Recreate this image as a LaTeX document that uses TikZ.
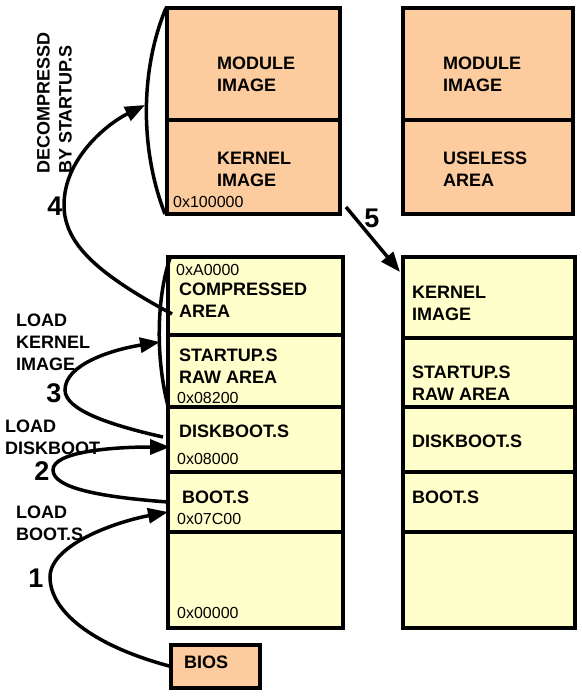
\documentclass[tikz,border=0pt]{standalone}
\usepackage{fontspec}
\setmainfont{Liberation Sans}
\usepackage{tikz}
\usetikzlibrary{arrows.meta}
\definecolor{peach}{RGB}{252,204,158}
\definecolor{paleyellow}{RGB}{255,255,204}

\begin{document}
\begin{tikzpicture}[x=1pt,y=-1pt,
    cell/.style={draw,line width=4pt,anchor=north west,inner sep=0pt,outer sep=0pt},
    orangecell/.style={cell,fill=peach},
    yellowcell/.style={cell,fill=paleyellow},
    txt/.style={anchor=west,align=left,inner sep=0pt,font=\fontsize{18}{22}\selectfont\bfseries},
    hex/.style={anchor=west,inner sep=0pt,font=\fontsize{16}{19}\selectfont},
    num/.style={inner sep=0pt,font=\fontsize{27}{30}\selectfont\bfseries},
    arrow/.style={line width=3.5pt,-{Triangle[length=20pt,width=15pt]}},
    brace/.style={line width=3.5pt}]
    \useasboundingbox (0,0) rectangle (581,696);

    \node [orangecell,minimum width=173pt,minimum height=112pt] (ltmod) at (167,8) {};
    \node [orangecell,minimum width=173pt,minimum height=94pt] (ltker) at (167,120) {};
    \node [orangecell,minimum width=170pt,minimum height=112pt] (rtmod) at (403,8) {};
    \node [orangecell,minimum width=170pt,minimum height=94pt] (rtuse) at (403,120) {};

    \node [yellowcell,minimum width=175pt,minimum height=78pt] (lcomp) at (168,257) {};
    \node [yellowcell,minimum width=175pt,minimum height=72pt] (lstart) at (168,335) {};
    \node [yellowcell,minimum width=175pt,minimum height=65pt] (ldisk) at (168,407) {};
    \node [yellowcell,minimum width=175pt,minimum height=60pt] (lboot) at (168,472) {};
    \node [yellowcell,minimum width=175pt,minimum height=96pt] (llow) at (168,532) {};

    \node [yellowcell,minimum width=172pt,minimum height=81pt] (rker) at (403,257) {};
    \node [yellowcell,minimum width=172pt,minimum height=69pt] (rstart) at (403,338) {};
    \node [yellowcell,minimum width=172pt,minimum height=65pt] (rdisk) at (403,407) {};
    \node [yellowcell,minimum width=172pt,minimum height=60pt] (rboot) at (403,472) {};
    \node [yellowcell,minimum width=172pt,minimum height=96pt] (rlow) at (403,532) {};

    \node [orangecell,minimum width=89pt,minimum height=43pt] (bios) at (171,645) {};

    \node [txt] (ltmodtext) at (217,74.5) {MODULE\\IMAGE};
    \node [txt] (ltkertext) at (217,169) {KERNEL\\IMAGE};
    \node [hex] (ltkerhex) at (173,202) {0x100000};
    \node [txt] (rtmodtext) at (443,74.5) {MODULE\\IMAGE};
    \node [txt] (rtusetext) at (443,169) {USELESS\\AREA};

    \node [hex] (lcomphex) at (176,270) {0xA0000};
    \node [txt] (lcomptext) at (179,300.5) {COMPRESSED\\AREA};
    \node [txt] (lstarttext) at (179,366) {STARTUP.S\\RAW AREA};
    \node [hex] (lstarthex) at (177,398) {0x08200};
    \node [txt] (ldisktext) at (179,431) {DISKBOOT.S};
    \node [hex] (ldiskhex) at (177,459) {0x08000};
    \node [txt] (lboottext) at (182,497) {BOOT.S};
    \node [hex] (lboothex) at (177,519) {0x07C00};
    \node [hex] (llowhex) at (177,613) {0x00000};
    \node [txt] (biostext) at (184,662) {BIOS};

    \node [txt] (rkertext) at (412,303.5) {KERNEL\\IMAGE};
    \node [txt] (rstarttext) at (412,383.5) {STARTUP.S\\RAW AREA};
    \node [txt] (rdisktext) at (412,441) {DISKBOOT.S};
    \node [txt] (rboottext) at (412,497) {BOOT.S};

    \node [txt,rotate=90] (decomp) at (54.5,174) {DECOMPRESSD\\BY STARTUP.S};
    \node [txt] (loadkernel) at (16,342) {LOAD\\KERNEL\\IMAGE};
    \node [txt] (loaddisk) at (5,437) {LOAD\\DISKBOOT};
    \node [txt] (loadboot) at (16,523) {LOAD\\BOOT.S};

    \node [num] (one) at (36,578) {1};
    \node [num] (two) at (42,471) {2};
    \node [num] (three) at (54,393) {3};
    \node [num] (four) at (55,206) {4};
    \node [num] (five) at (372,218) {5};

    \draw [brace] (166,8) .. controls (140,70) and (140,150) .. (165,214);
    \draw [brace] (170,258) .. controls (156,300) and (156,360) .. (168,406);

    \coordinate (t1) at (168,512);
    \coordinate (t2) at (170,447);
    \coordinate (s3) at (163,437);
    \coordinate (t3) at (160,342);
    \coordinate (s4) at (172,314);
    \coordinate (t4) at (145,105);
    \coordinate (s5) at (346,207);
    \coordinate (t5) at (400,272);

    \draw [arrow] (bios.west) .. controls (90,645) and (50,610) .. (50,577) .. controls (50,545) and (115,522) .. (t1);
    \draw [arrow] (lboot.west) .. controls (100,497) and (53,488) .. (53,470) .. controls (53,452) and (110,447) .. (t2);
    \draw [arrow] (s3) .. controls (110,425) and (65,410) .. (65,390) .. controls (65,365) and (110,350) .. (t3);
    \draw [arrow] (s4) .. controls (100,275) and (64,245) .. (64,205) .. controls (64,160) and (105,125) .. (t4);
    \draw [arrow] (s5) -- (t5);
\end{tikzpicture}
\end{document}
